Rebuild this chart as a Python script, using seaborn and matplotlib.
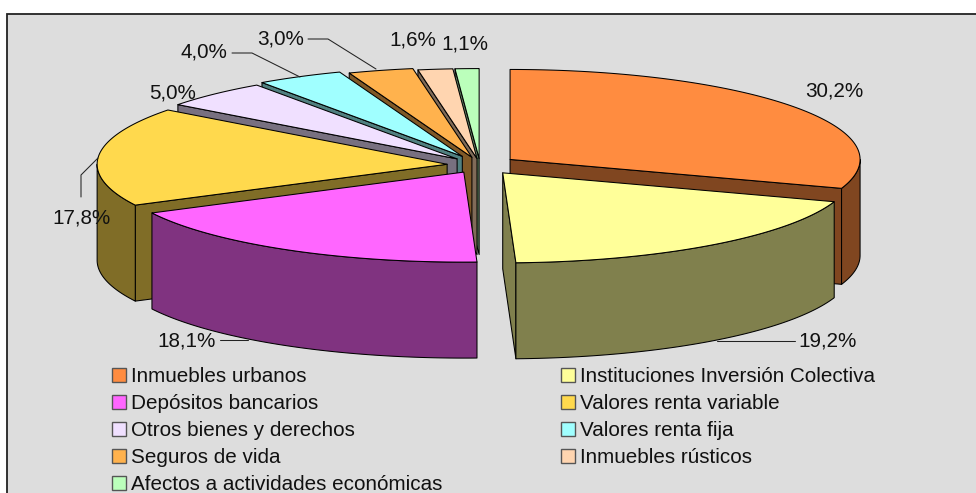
import matplotlib
matplotlib.use("Agg")
import matplotlib.pyplot as plt
from matplotlib.patches import Patch, Rectangle
import numpy as np
import seaborn as sns

categories = [
    "Inmuebles urbanos",
    "Instituciones Inversión Colectiva",
    "Depósitos bancarios",
    "Valores renta variable",
    "Otros bienes y derechos",
    "Valores renta fija",
    "Seguros de vida",
    "Inmuebles rústicos",
    "Afectos a actividades económicas",
]
shares = [30.2, 19.2, 18.1, 17.8, 5.0, 4.0, 3.0, 1.6, 1.1]
slice_colors = ["#FF8C40", "#FFFF99", "#FF66FF", "#FFD94D", "#F0E0FF",
                "#A0FFFF", "#FFB24D", "#FFD5B0", "#BBFFBB"]

# pixel layout of the fake 3d pie
CX, CY = 480, 165
RX, RY = 350, 90
DEPTH = 96
explode = [37, 38, 32, 33, 33, 38, 31, 25, 25]
draw_order = [8, 7, 6, 5, 4, 3, 0, 1, 2]

label_pos = [(834, 91), (828, 341), (187, 341), (81, 218), (173, 93),
             (204, 52), (281, 39), (413, 40), (465, 44)]
leaders = {
    1: [(717, 341), (795, 341)],
    2: [(220, 340), (248, 340)],
    3: [(98, 158), (81, 175), (81, 197)],
    5: [(232, 53), (252, 53), (300, 77)],
    6: [(308, 39), (328, 39), (376, 69)],
}


def rim(theta, ox, oy):
    return ox + RX * np.sin(theta), oy - RY * np.cos(theta)


def draw_slice(ax, start, end, off, color):
    mid = (start + end) / 2
    ox = CX + off * np.sin(mid)
    oy = CY - off * np.cos(mid) * RY / RX
    side = tuple(0.5 * c for c in color)
    kw = dict(edgecolor="black", lw=0.75, joinstyle="round")

    # cut faces only show when the top lies above them on screen
    if np.sin(start) < -1e-6:
        px, py = rim(start, ox, oy)
        ax.fill([ox, px, px, ox], [oy, py, py + DEPTH, oy + DEPTH], facecolor=side, **kw)
    if np.sin(end) > 1e-6:
        px, py = rim(end, ox, oy)
        ax.fill([ox, px, px, ox], [oy, py, py + DEPTH, oy + DEPTH], facecolor=side, **kw)

    # outer wall, front half of the ellipse only
    lo, hi = max(start, np.pi / 2), min(end, 3 * np.pi / 2)
    if lo < hi:
        wx, wy = rim(np.linspace(lo, hi, 120), ox, oy)
        ax.fill(np.r_[wx, wx[::-1]], np.r_[wy, wy[::-1] + DEPTH], facecolor=side, **kw)

    x, y = rim(np.linspace(start, end, 160), ox, oy)
    ax.fill(np.r_[ox, x], np.r_[oy, y], facecolor=color, **kw)


def main():
    sns.set_theme(style="white", rc={"font.size": 14.85})
    plt.rcParams["font.family"] = ["Liberation Sans", "DejaVu Sans"]
    palette = sns.color_palette(slice_colors)

    fig = plt.figure(figsize=(9.76, 4.93), dpi=100, facecolor="white")
    ax = fig.add_axes([0, 0, 1, 1])
    ax.set_xlim(0, 976)
    ax.set_ylim(493, 0)
    ax.axis("off")
    ax.add_patch(Rectangle((7, 14), 985, 500, facecolor="#DDDDDD", edgecolor="#222222", lw=1.3))

    edges = np.radians(np.r_[0, np.cumsum(shares)] * 3.6)
    for i in draw_order:
        draw_slice(ax, edges[i], edges[i + 1], explode[i], palette[i])

    for pts in leaders.values():
        xs, ys = zip(*pts)
        ax.plot(xs, ys, color="#222222", lw=0.75)
    for value, (x, y) in zip(shares, label_pos):
        ax.text(x, y, f"{value:.1f}".replace(".", ",") + "%", ha="center", va="center",
                fontsize=14.85, color="#111111")

    # legend fills by column, so split odd and even entries
    order = list(range(0, 9, 2)) + list(range(1, 9, 2))
    handles = [Patch(facecolor=palette[i], edgecolor="#555555", lw=1, label=categories[i]) for i in order]
    ax.legend(handles=handles, ncol=2, loc="upper left", bbox_to_anchor=(112 / 976, 1 - 367.5 / 493),
              frameon=False, fontsize=14.85, borderpad=0, borderaxespad=0, handlelength=0.68,
              handleheight=0.68, handletextpad=0.25, labelspacing=0.385, columnspacing=5.75,
              labelcolor="#111111")

    plt.savefig("out.png", dpi=100)


if __name__ == "__main__":
    main()
